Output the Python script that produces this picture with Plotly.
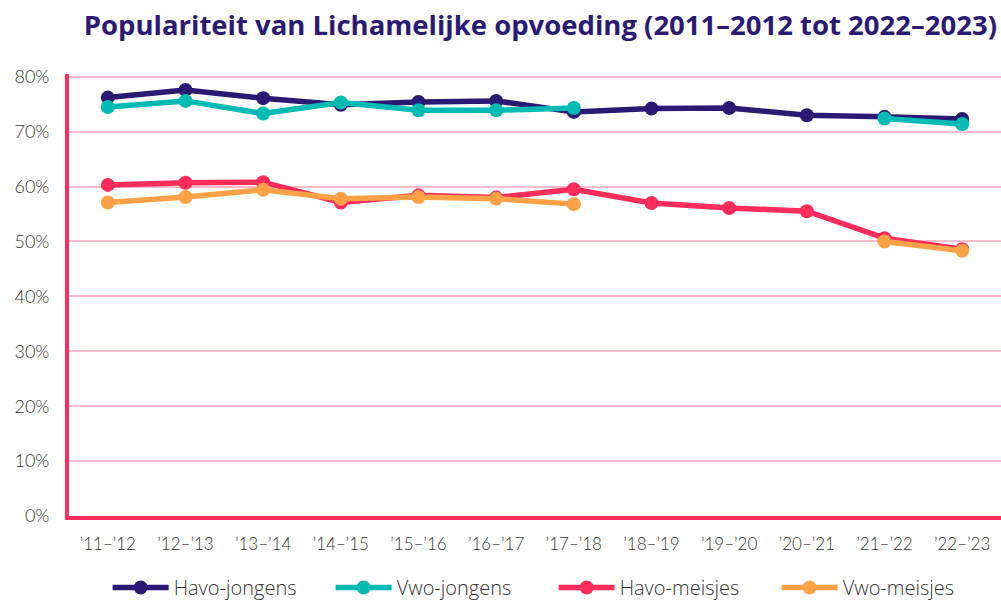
import plotly.graph_objects as go

years = ["’11–’12", "’12–’13", "’13–’14", "’14–’15", "’15–’16", "’16–’17",
         "’17–’18", "’18–’19", "’19–’20", "’20–’21", "’21–’22", "’22–’23"]

havo_jongens = [76.2, 77.6, 76.1, 74.9, 75.4, 75.6, 73.6, 74.2, 74.3, 73.0, 72.7, 72.3]
vwo_jongens = [74.5, 75.6, 73.3, 75.3, 73.9, 73.9, 74.3, None, None, None, 72.4, 71.4]
havo_meisjes = [60.3, 60.7, 60.8, 57.1, 58.4, 58.0, 59.5, 57.0, 56.1, 55.5, 50.6, 48.6]
vwo_meisjes = [57.1, 58.1, 59.4, 57.8, 58.1, 57.8, 56.8, None, None, None, 50.0, 48.3]

series = [
    ("Havo-jongens", havo_jongens, "#2b1a74"),
    ("Vwo-jongens", vwo_jongens, "#00bab3"),
    ("Havo-meisjes", havo_meisjes, "#ff2d5c"),
    ("Vwo-meisjes", vwo_meisjes, "#ffa247"),
]

fig = go.Figure()
for name, vals, color in series:
    fig.add_trace(go.Scatter(
        x=years, y=[v / 100 if v is not None else None for v in vals],
        name=name, mode="lines+markers",
        line=dict(color=color, width=5.5),
        marker=dict(color=color, size=14),
        connectgaps=False,
    ))

fig.update_layout(
    width=1001, height=607,
    margin=dict(l=69, r=0, t=74, b=85),
    paper_bgcolor="white", plot_bgcolor="white",
    font=dict(family="Lato, sans-serif", size=17, color="#333333"),
    title=dict(
        text="<b>Populariteit van Lichamelijke opvoeding (2011–2012 tot 2022–2023)</b>",
        x=0.996, xanchor="right", y=0.959, yanchor="middle",
        font=dict(family="Open Sans, sans-serif", size=27.5, color="#2b1a74"),
    ),
    showlegend=True,
    legend=dict(orientation="h", x=0.52, xanchor="center", y=-0.163, yanchor="middle",
                font=dict(size=20, color="#333333", family="Open Sans, sans-serif", weight=300),
                itemwidth=56, entrywidth=152, entrywidthmode="pixels"),
    xaxis=dict(
        type="category", range=[-0.5, 11.5],
        showline=True, linecolor="#ff2d5c", linewidth=4,
        showgrid=False, ticks="", ticklen=0, ticklabelstandoff=10,
        tickfont=dict(size=17, color="#333333", family="Lato, sans-serif", weight=300),
    ),
    yaxis=dict(
        range=[0, 0.805], tickvals=[0, 0.1, 0.2, 0.3, 0.4, 0.5, 0.6, 0.7, 0.8],
        tickformat=".0%",
        showline=True, linecolor="#ff2d5c", linewidth=4,
        showgrid=True, gridcolor="#ffbccb", gridwidth=1.5,
        zeroline=False, ticks="", ticklabelstandoff=12,
        tickfont=dict(size=18, color="#333333", family="Lato, sans-serif", weight=300),
    ),
)

fig.write_html(
    "out.html",
    config={"displayModeBar": False},
    post_script="document.body.style.margin='0';document.body.style.overflow='hidden';",
)
